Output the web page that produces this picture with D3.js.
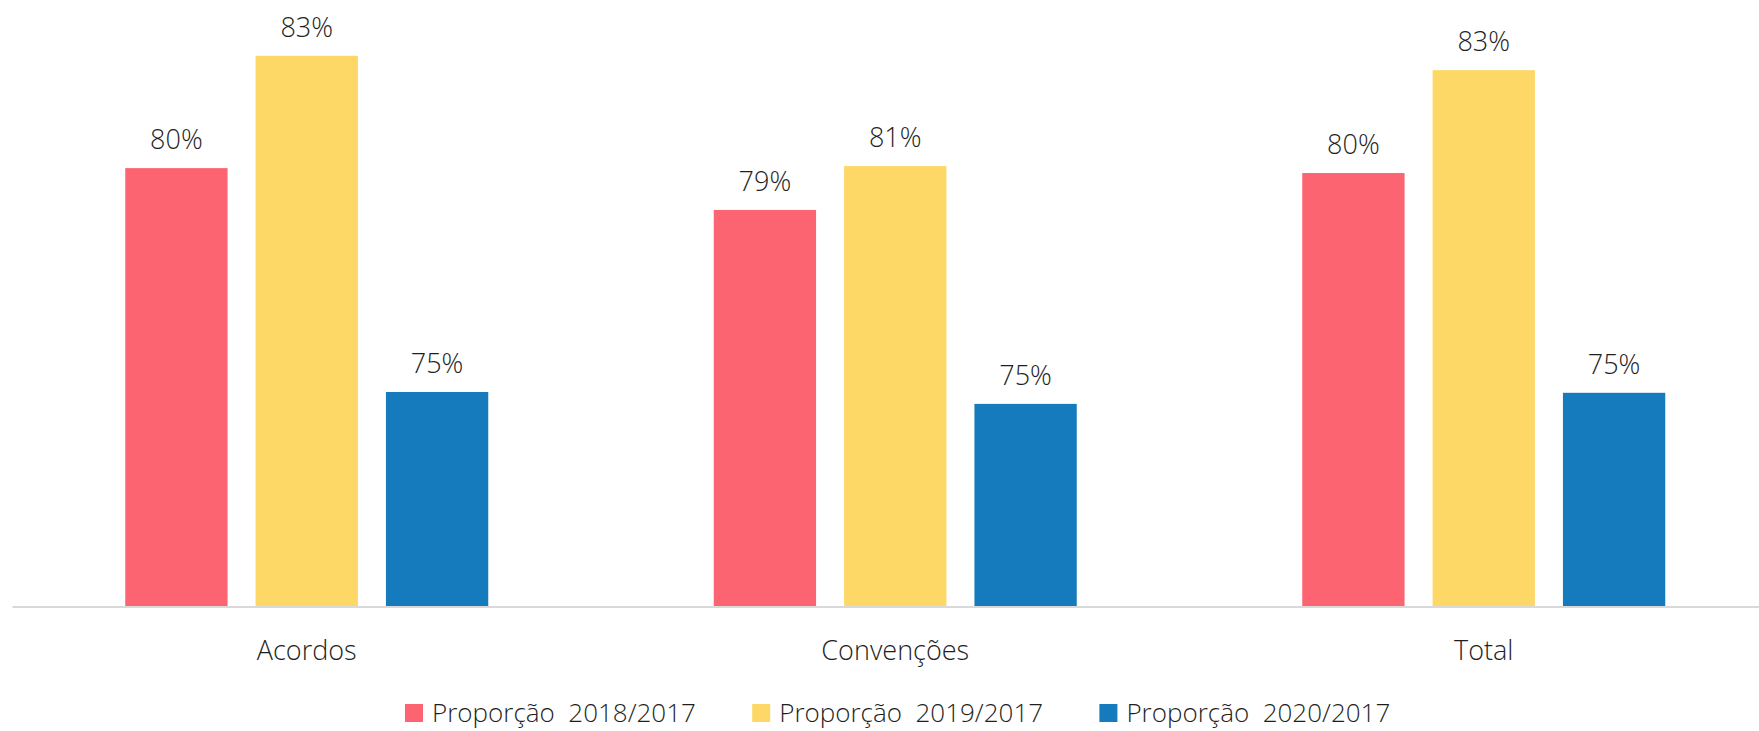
<!DOCTYPE html>
<html>
<head>
<meta charset="utf-8">
<script src="https://cdn.jsdelivr.net/npm/d3@7"></script>
<style>
  body { margin: 0; background: #fff; }
  svg { display: block; font-family: "Open Sans", "Segoe UI", sans-serif; font-weight: 300; }
</style>
</head>
<body>
<svg></svg>
<script>
// grouped bar chart, proportions relative to 2017
const width = 1759;
const height = 731;

const categories = ["Acordos", "Convenções", "Total"];
const seriesNames = ["Proporção  2018/2017", "Proporção  2019/2017", "Proporção  2020/2017"];
const colors = ["#fb6470", "#fdd867", "#167bbd"];

// values per series, in category order
const prop2018 = [0.8047, 0.7945, 0.8035];
const prop2019 = [0.8321, 0.8052, 0.8286];
const prop2020 = [0.7501, 0.7472, 0.7499];

const series = [prop2018, prop2019, prop2020];

const svg = d3.select("svg")
  .attr("width", width)
  .attr("height", height);

const baseY = 606;

// x scales
const x0 = d3.scaleBand()
  .domain(categories)
  .range([12.5, 1778])
  .paddingInner(0)
  .paddingOuter(0);

const x1 = d3.scaleBand()
  .domain(d3.range(series.length))
  .range([0, 363])
  .paddingInner(0.215)
  .paddingOuter(0);

// y scale (axis does not start at zero)
const y = d3.scaleLinear()
  .domain([0.6979, 0.8479])
  .range([baseY, baseY - 15 * 41]);

const fmt = d3.format(".0%");

// bars + labels
categories.forEach((cat, ci) => {
  const g = svg.append("g")
    .attr("transform", `translate(${x0(cat) + x0.bandwidth() / 2 - 181.5}, 0)`);

  series.forEach((vals, si) => {
    g.append("rect")
      .attr("x", x1(si))
      .attr("y", y(vals[ci]))
      .attr("width", x1.bandwidth())
      .attr("height", baseY - y(vals[ci]))
      .attr("fill", colors[si]);

    g.append("text")
      .attr("x", x1(si) + x1.bandwidth() / 2)
      .attr("y", y(vals[ci]) - 19)
      .attr("text-anchor", "middle")
      .attr("font-size", "27px")
      .attr("fill", "#1f1f1f")
      .text(fmt(vals[ci]));
  });
});

// baseline
svg.append("line")
  .attr("x1", 12.5)
  .attr("x2", width)
  .attr("y1", baseY + 1)
  .attr("y2", baseY + 1)
  .attr("stroke", "#d9d9d9")
  .attr("stroke-width", 2);

// category labels
svg.selectAll(".cat")
  .data(categories)
  .enter().append("text")
  .attr("class", "cat")
  .attr("x", d => x0(d) + x0.bandwidth() / 2)
  .attr("y", 660)
  .attr("text-anchor", "middle")
  .attr("font-size", "27px")
  .attr("fill", "#1f1f1f")
  .text(d => d);

// legend
const legend = svg.append("g");
seriesNames.forEach((name, i) => {
  const lx = 405 + i * 347.2;
  legend.append("rect")
    .attr("x", lx)
    .attr("y", 704)
    .attr("width", 18)
    .attr("height", 18)
    .attr("fill", colors[i]);
  legend.append("text")
    .attr("x", lx + 27)
    .attr("y", 722)
    .attr("font-size", "26px")
    .attr("fill", "#1f1f1f")
    .style("white-space", "pre")
    .text(name);
});
</script>
</body>
</html>
